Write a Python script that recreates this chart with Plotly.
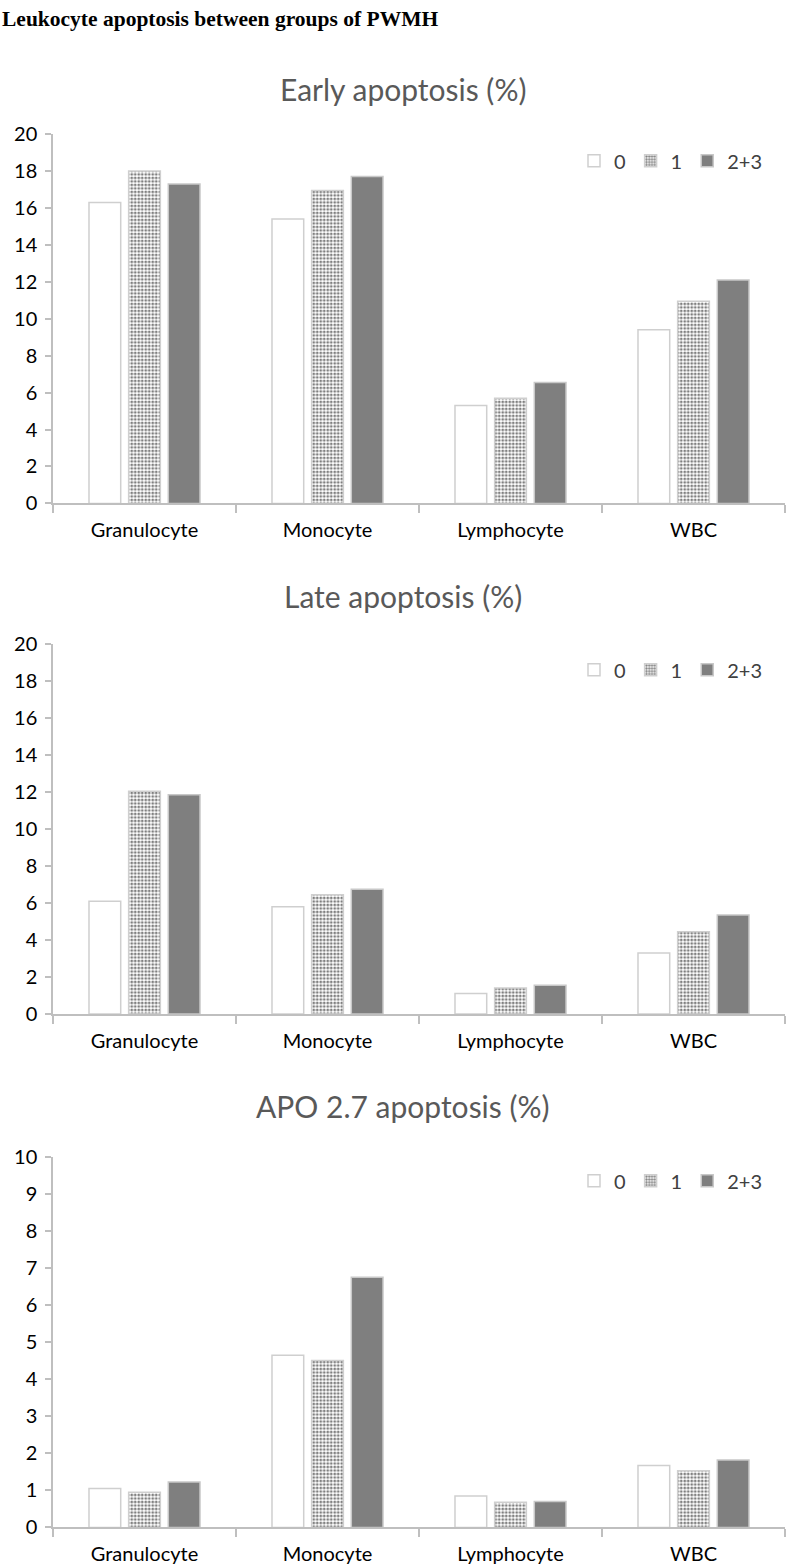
import plotly.graph_objects as go

categories = ["Granulocyte", "Monocyte", "Lymphocyte", "WBC"]
groups = ["0", "1", "2+3"]

early_0 = [16.3, 15.4, 5.3, 9.4]
early_1 = [18.0, 16.95, 5.7, 10.95]
early_23 = [17.3, 17.7, 6.55, 12.1]

late_0 = [6.1, 5.8, 1.1, 3.3]
late_1 = [12.05, 6.45, 1.4, 4.45]
late_23 = [11.85, 6.75, 1.55, 5.35]

apo_0 = [1.05, 4.65, 0.85, 1.67]
apo_1 = [0.95, 4.51, 0.68, 1.53]
apo_23 = [1.23, 6.76, 0.7, 1.82]

panel_titles = ["Early apoptosis (%)", "Late apoptosis (%)", "APO 2.7 apoptosis (%)"]
heading = "Leukocyte apoptosis between groups of PWMH"

W, H = 788, 1567
FONT = "Lato, 'Open Sans', sans-serif"


def py(px):
    return 1 - px / H


panels = [
    dict(data=[early_0, early_1, early_23], y0=498, ytop=123, rng=[0, 20], dtick=2, title_y=77, leg_y=150),
    dict(data=[late_0, late_1, late_23], y0=1016.5, ytop=641, rng=[0, 20], dtick=2, title_y=592, leg_y=667),
    dict(data=[apo_0, apo_1, apo_23], y0=1538, ytop=1162, rng=[0, 10], dtick=1, title_y=1110, leg_y=1186),
]

styles = [
    dict(marker=dict(color="white", line=dict(color="#cfcfcf", width=1.5))),
    dict(marker=dict(color="white", line=dict(color="#cfcfcf", width=1.5),
                     pattern=dict(shape=".", fgcolor="#000000", bgcolor="white", size=3.5, solidity=0.5))),
    dict(marker=dict(color="#7f7f7f", line=dict(color="#c8c8c8", width=1.5))),
]

fig = go.Figure()
layout = dict(
    width=W, height=H,
    margin=dict(l=0, r=0, t=0, b=0),
    paper_bgcolor="white", plot_bgcolor="white",
    barmode="group", bargap=0.35, bargroupgap=0.2,
    showlegend=True,
    font=dict(family=FONT, color="#000000"),
)

annotations = [dict(text="<b>" + heading + "</b>", x=0.0, xanchor="left", y=py(-8), yanchor="top",
                    xref="paper", yref="paper", showarrow=False,
                    font=dict(family="'Liberation Serif', 'Times New Roman', serif", size=21.5, color="black"))]

for i, p in enumerate(panels):
    sfx = "" if i == 0 else str(i + 1)
    leg = "legend" + sfx
    for j, g in enumerate(groups):
        fig.add_trace(go.Bar(
            x=categories, y=p["data"][j], name=g,
            xaxis="x" + sfx, yaxis="y" + sfx, legend=leg,
            **styles[j],
        ))
    layout["xaxis" + sfx] = dict(
        domain=[53 / W, 785 / W], anchor="y" + sfx,
        showline=True, linecolor="#bfbfbf", linewidth=1.5,
        ticks="outside", tickson="boundaries", ticklen=8, tickcolor="#bfbfbf", tickwidth=1.5,
        ticklabelstandoff=8,
        tickfont=dict(size=20, color="#000000", family=FONT), showgrid=False,
    )
    layout["yaxis" + sfx] = dict(
        domain=[py(p["y0"]), py(p["ytop"])], anchor="x" + sfx,
        range=p["rng"], dtick=p["dtick"], tick0=0,
        showline=True, linecolor="#bfbfbf", linewidth=1.5,
        ticks="outside", ticklen=6, tickcolor="#bfbfbf", tickwidth=1.5,
        ticklabelstandoff=4,
        tickfont=dict(size=20, color="#000000", family=FONT), showgrid=False, zeroline=False,
    )
    layout[leg] = dict(
        orientation="h", x=768 / W, xanchor="right", y=py(p["leg_y"]), yanchor="middle",
        font=dict(size=20, color="#404040", family=FONT), bgcolor="rgba(0,0,0,0)",
        itemwidth=30, tracegroupgap=0,
    )
    annotations.append(dict(text=panel_titles[i], x=403 / W, xanchor="center", y=py(p["title_y"]),
                            yanchor="middle", xref="paper", yref="paper", showarrow=False,
                            font=dict(size=30, color="#595959", family=FONT)))

layout["annotations"] = annotations
fig.update_layout(**layout)
fig.write_html("out.html", config={"displayModeBar": False},
               post_script="document.body.style.margin='0';document.body.style.padding='0';")
